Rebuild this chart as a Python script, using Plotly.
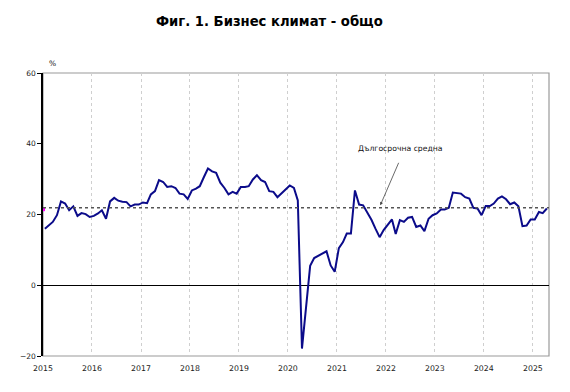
import pandas as pd
import plotly.graph_objects as go

# ---- data ----
START_MONTH = "2015-01-01"
business_climate = [
    16.0, 16.9, 17.9, 19.8, 23.7, 23.1, 21.2, 22.3, 19.6, 20.4, 20.1, 19.3,   # 2015
    19.6, 20.3, 21.2, 18.8, 23.7, 24.7, 23.9, 23.6, 23.5, 22.3, 22.8, 22.8,   # 2016
    23.4, 23.2, 25.7, 26.6, 29.7, 29.2, 27.8, 28.0, 27.5, 25.9, 25.7, 24.4,   # 2017
    26.8, 27.3, 28.0, 30.6, 33.0, 32.2, 31.8, 29.0, 27.5, 25.7, 26.4, 25.9,   # 2018
    27.8, 27.8, 28.0, 29.9, 31.1, 29.7, 29.2, 26.6, 26.4, 24.9, 26.1, 27.1,   # 2019
    28.2, 27.5, 24.0, -17.9, -6.2, 5.5, 7.7, 8.3, 8.9, 9.6, 5.6, 3.8,          # 2020
    10.5, 12.2, 14.6, 14.6, 26.8, 22.8, 22.6, 20.5, 18.5, 16.0, 13.6, 15.6,   # 2021
    17.1, 18.6, 14.5, 18.4, 17.9, 19.1, 19.3, 16.5, 16.9, 15.3, 18.8, 19.8,   # 2022
    20.3, 21.4, 21.4, 21.9, 26.2, 26.1, 25.9, 24.9, 24.5, 21.9, 21.7, 19.8,   # 2023
    22.4, 22.4, 23.1, 24.5, 25.1, 24.3, 22.9, 23.4, 22.3, 16.7, 16.9, 18.6,   # 2024
    18.6, 20.7, 20.4, 21.7,                                                   # 2025
]
long_term_average = 21.9
start_marker_value = 21.5
year_ticks = [str(y) for y in range(2015, 2026)]
y_ticks = [-20, 0, 20, 40, 60]

title_text = "Фиг. 1. Бизнес климат - общо"
annotation_text = "Дългосрочна средна"
unit_text = "%"

# mid-month positions
months = pd.date_range(START_MONTH, periods=len(business_climate), freq="MS") + pd.Timedelta(days=14)

FONT = "DejaVu Sans"

fig = go.Figure()

fig.add_trace(go.Scatter(
    x=months, y=business_climate, mode="lines",
    line=dict(color="#0b0b8a", width=2),
    hoverinfo="x+y", showlegend=False,
))

fig.add_trace(go.Scatter(
    x=[pd.Timestamp(START_MONTH)], y=[start_marker_value], mode="markers",
    marker=dict(color="#ff00ff", size=4, symbol="square"),
    showlegend=False, cliponaxis=False,
))

shapes = [
    # plot border (gray)
    dict(type="rect", xref="paper", yref="paper", x0=0, x1=1, y0=0, y1=1,
         line=dict(color="#9a9a9a", width=1.2), layer="below"),
    # long-term average dotted line
    dict(type="line", xref="paper", yref="y", x0=0, x1=1,
         y0=long_term_average, y1=long_term_average,
         line=dict(color="#555555", width=1.5, dash="dot")),
]

fig.update_layout(
    width=570, height=392,
    margin=dict(l=43, r=21, t=73, b=36),
    paper_bgcolor="white", plot_bgcolor="white",
    font=dict(family=FONT, size=8, color="#111"),
    shapes=shapes,
    annotations=[
        dict(text="<b>" + title_text + "</b>", xref="paper", yref="paper",
             x=0.447, y=1, yshift=52, xanchor="center", yanchor="middle",
             showarrow=False, font=dict(family=FONT, size=13.2, color="#000")),
        dict(text=unit_text, xref="paper", yref="paper", x=0, y=1,
             xshift=4, yshift=10, xanchor="left", yanchor="middle",
             showarrow=False, font=dict(family=FONT, size=7.5, color="#111")),
        dict(text=annotation_text, xref="x", yref="y",
             x="2022-04-20", y=38.6, xanchor="center", yanchor="middle",
             showarrow=False, font=dict(family=FONT, size=7.7, color="#111")),
        dict(text="", xref="x", yref="y", x="2021-11-20", y=22.6,
             showarrow=True, arrowhead=2, arrowsize=0.8, arrowwidth=0.8,
             arrowcolor="#444", ax=19, ay=-44, standoff=0),
    ],
    xaxis=dict(
        type="date",
        range=["2015-01-01", "2025-05-01"],
        tickmode="array",
        tickvals=[f"{y}-01-01" for y in year_ticks],
        ticktext=year_ticks,
        showgrid=True, gridcolor="#cfcfcf", griddash="dot", gridwidth=1,
        showline=False, ticks="", zeroline=False,
        ticklabelstandoff=6,
        tickfont=dict(family=FONT, size=7.8, color="#222"),
    ),
    yaxis=dict(
        range=[-20, 60],
        tickmode="array", tickvals=y_ticks,
        showgrid=False,
        zeroline=True, zerolinecolor="#000", zerolinewidth=1,
        showline=True, linecolor="#000", linewidth=1.5,
        ticks="outside", ticklen=4, tickcolor="#000", tickwidth=1,
        tickfont=dict(family=FONT, size=7.5, color="#222"),
    ),
)

fig.write_html("out.html")
